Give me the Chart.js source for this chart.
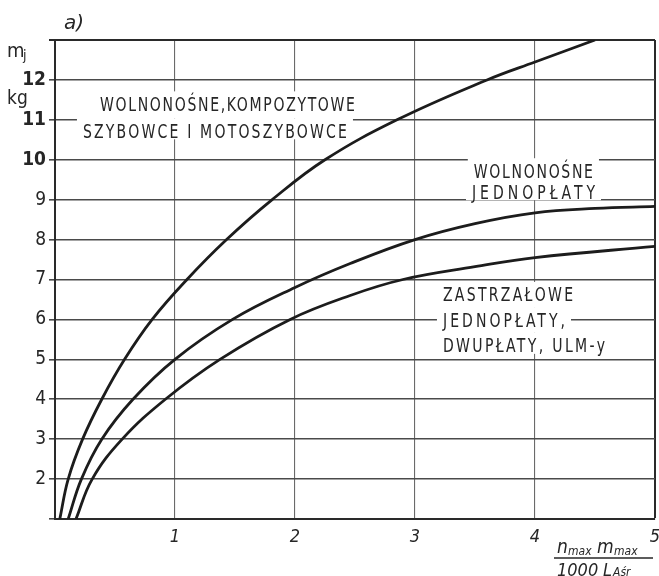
<!DOCTYPE html>
<html>
<head>
<meta charset="utf-8">
<style>
  html, body { margin: 0; padding: 0; background: #ffffff; }
  #wrap { width: 659px; height: 576px; }
</style>
<script src="https://cdn.jsdelivr.net/npm/chart.js@4/dist/chart.umd.min.js"></script>
</head>
<body>
<div id="wrap"><canvas id="chart" width="659" height="576"></canvas></div>
<script>
// Load factor term on x, mass m_j [kg] on y
const xTicks = [1, 2, 3, 4, 5];
const yTicks = [2, 3, 4, 5, 6, 7, 8, 9, 10, 11, 12];

// Free-carrying composite gliders and motor gliders
const compositeX = [0.04, 0.11, 0.23, 0.39, 0.58, 0.81, 1.1, 1.43, 1.81, 2.25, 2.85, 3.6, 4.0, 4.5];
const compositeY = [1, 2, 3, 4, 5, 6, 7, 8, 9, 10, 11, 12, 12.45, 13];

// Free-carrying monoplanes
const monoplaneX = [0.11, 0.22, 0.39, 0.65, 1.0, 1.48, 2.0, 2.46, 3.0, 3.5, 4.0, 4.5, 5.0];
const monoplaneY = [1, 2, 3, 4, 5, 6, 6.8, 7.4, 8.0, 8.4, 8.67, 8.78, 8.83];

// Strut-braced monoplanes, biplanes, ULM
const strutX = [0.175, 0.31, 0.56, 0.92, 1.375, 1.96, 2.46, 2.9, 3.5, 4.0, 5.0];
const strutY = [1, 2, 3, 4, 5, 6, 6.6, 7.0, 7.32, 7.55, 7.83];

// In-plot captions: text lines with their span on the x axis and centre on the y axis
const captions = [
  { lines: ['WOLNONOŚNE,KOMPOZYTOWE', 'SZYBOWCE I MOTOSZYBOWCE'],
    x0: [0.375, 0.233], x1: [2.5, 2.433], y: [11.4, 10.725] },
  { lines: ['WOLNONOŚNE', 'JEDNOPŁATY'],
    x0: [3.49, 3.475], x1: [4.483, 4.5], y: [9.725, 9.2] },
  { lines: ['ZASTRZAŁOWE', 'JEDNOPŁATY,', 'DWUPŁATY, ULM-y'],
    x0: [3.233, 3.233, 3.233], x1: [4.317, 4.25, 4.583], y: [6.625, 5.975, 5.35] }
];

const INK = '#262626';
const LETTER_FONT = "19px 'DejaVu Sans Condensed', 'DejaVu Sans', sans-serif";
const LETTER_SQUEEZE = 0.82;

function toPoints(xs, ys) {
  return xs.map((x, i) => ({ x: x, y: ys[i] }));
}

function curve(label, xs, ys) {
  return {
    label: label,
    data: toPoints(xs, ys),
    showLine: true,
    borderColor: '#1c1c1c',
    borderWidth: 2.8,
    pointRadius: 0,
    tension: 0.4,
    fill: false
  };
}

// Narrow lettering, spaced out to span a given pixel width
function spreadText(ctx, text, left, right, baseline) {
  ctx.save();
  ctx.translate(left, baseline);
  ctx.scale(LETTER_SQUEEZE, 1);
  ctx.letterSpacing = '0px';
  const target = (right - left) / LETTER_SQUEEZE;
  const w = ctx.measureText(text).width;
  const n = Math.max(1, text.length - 1);
  const gap = (target - w) / n;
  if (gap >= 0) {
    ctx.letterSpacing = gap.toFixed(2) + 'px';
  } else {
    ctx.scale(target / w, 1);
  }
  ctx.fillText(text, 0, 0);
  ctx.restore();
}

const whitePage = {
  id: 'whitePage',
  beforeDraw(chart) {
    const ctx = chart.ctx;
    ctx.save();
    ctx.fillStyle = '#ffffff';
    ctx.fillRect(0, 0, chart.width, chart.height);
    ctx.restore();
  }
};

// Captions sit on white patches that interrupt the grid
const captionPlugin = {
  id: 'captionPlugin',
  beforeDatasetsDraw(chart) {
    const ctx = chart.ctx;
    const xs = chart.scales.x, ys = chart.scales.y;
    ctx.save();
    ctx.font = LETTER_FONT;
    captions.forEach(c => {
      c.lines.forEach((t, i) => {
        const l = xs.getPixelForValue(c.x0[i]);
        const r = xs.getPixelForValue(c.x1[i]);
        const cy = ys.getPixelForValue(c.y[i]);
        const top = cy - 12.5;
        const bottom = (i < c.lines.length - 1) ? ys.getPixelForValue(c.y[i + 1]) - 12.5 : cy + 8.5;
        ctx.fillStyle = '#ffffff';
        ctx.fillRect(l - 6, top, (r - l) + 12, bottom - top);
      });
    });
    ctx.fillStyle = INK;
    ctx.textBaseline = 'alphabetic';
    ctx.textAlign = 'left';
    captions.forEach(c => {
      c.lines.forEach((t, i) => {
        const l = xs.getPixelForValue(c.x0[i]);
        const r = xs.getPixelForValue(c.x1[i]);
        const cy = ys.getPixelForValue(c.y[i]);
        spreadText(ctx, t, l, r, cy + 7);
      });
    });
    ctx.restore();
  }
};

// Axis names, unit and panel letter
const axisNotes = {
  id: 'axisNotes',
  afterDraw(chart) {
    const ctx = chart.ctx;
    const area = chart.chartArea;
    ctx.save();
    ctx.fillStyle = INK;
    ctx.strokeStyle = INK;
    ctx.textBaseline = 'alphabetic';
    ctx.textAlign = 'left';

    // panel letter
    ctx.font = "italic 20px 'DejaVu Sans', sans-serif";
    ctx.fillText('a)', 64, 29);

    // y axis symbol and unit
    ctx.font = "20px 'DejaVu Sans Condensed', 'DejaVu Sans', sans-serif";
    ctx.fillText('m', 7, 57);
    ctx.font = "14px 'DejaVu Sans Condensed', 'DejaVu Sans', sans-serif";
    ctx.fillText('j', 23, 60);
    ctx.font = "19px 'DejaVu Sans Condensed', 'DejaVu Sans', sans-serif";
    ctx.fillText('kg', 7, 104);

    // x axis term as a fraction
    const fx = 557;
    ctx.font = "italic 19px 'DejaVu Sans Condensed', 'DejaVu Sans', sans-serif";
    ctx.fillText('n', fx, 553);
    ctx.font = "italic 12px 'DejaVu Sans Condensed', 'DejaVu Sans', sans-serif";
    ctx.fillText('max', fx + 11, 555);
    ctx.font = "italic 19px 'DejaVu Sans Condensed', 'DejaVu Sans', sans-serif";
    ctx.fillText('m', fx + 40, 553);
    ctx.font = "italic 12px 'DejaVu Sans Condensed', 'DejaVu Sans', sans-serif";
    ctx.fillText('max', fx + 57, 555);
    ctx.lineWidth = 1.3;
    ctx.beginPath();
    ctx.moveTo(fx - 3, 558);
    ctx.lineTo(area.right - 2, 558);
    ctx.stroke();
    ctx.font = "italic 18px 'DejaVu Sans Condensed', 'DejaVu Sans', sans-serif";
    ctx.fillText('1000', fx, 576);
    ctx.fillText('L', fx + 46, 576);
    ctx.font = "italic 12px 'DejaVu Sans Condensed', 'DejaVu Sans', sans-serif";
    ctx.fillText('Aśr', fx + 56, 576);
    ctx.restore();
  }
};

new Chart(document.getElementById('chart'), {
  type: 'scatter',
  data: {
    datasets: [
      curve('Wolnonośne, kompozytowe szybowce i motoszybowce', compositeX, compositeY),
      curve('Wolnonośne jednopłaty', monoplaneX, monoplaneY),
      curve('Zastrzałowe jednopłaty, dwupłaty, ULM-y', strutX, strutY)
    ]
  },
  options: {
    responsive: false,
    animation: false,
    devicePixelRatio: 1,
    layout: { padding: { top: 40, right: 4, left: 0, bottom: 0 } },
    plugins: { legend: { display: false }, tooltip: { enabled: false } },
    scales: {
      x: {
        type: 'linear',
        min: 0,
        max: 5,
        afterFit(scale) {
          scale.height = 57;
          scale.paddingLeft = 0;
          scale.paddingRight = 0;
        },
        afterBuildTicks(scale) {
          scale.ticks = [0].concat(xTicks).map(v => ({ value: v }));
        },
        border: { display: true, color: '#2a2a2a', width: 2 },
        grid: {
          drawTicks: false,
          color: ctx => (ctx.tick && ctx.tick.value === 5) ? '#2a2a2a' : '#6a6a6a',
          lineWidth: ctx => (ctx.tick && ctx.tick.value === 5) ? 2 : 1.1
        },
        ticks: {
          padding: 8,
          color: INK,
          font: { family: "'DejaVu Sans Condensed', 'DejaVu Sans', sans-serif", size: 18, style: 'italic' },
          callback: v => (xTicks.includes(v) ? String(v) : '')
        }
      },
      y: {
        type: 'linear',
        min: 1,
        max: 13,
        afterFit(scale) { scale.width = 55; },
        afterBuildTicks(scale) {
          scale.ticks = [1].concat(yTicks, [13]).map(v => ({ value: v }));
        },
        border: { display: true, color: '#2a2a2a', width: 2 },
        grid: {
          drawTicks: true,
          tickLength: 6,
          color: ctx => (ctx.tick && ctx.tick.value === 13) ? '#2a2a2a' : '#4a4a4a',
          lineWidth: ctx => (ctx.tick && ctx.tick.value === 13) ? 2 : 1.6
        },
        ticks: {
          padding: 3,
          color: INK,
          font: ctx => ({
            family: "'DejaVu Sans Condensed', 'DejaVu Sans', sans-serif",
            size: 19,
            weight: (ctx.tick && ctx.tick.value >= 10) ? 'bold' : 'normal'
          }),
          callback: v => (yTicks.includes(v) ? String(v) : '')
        }
      }
    }
  },
  plugins: [whitePage, captionPlugin, axisNotes]
});
</script>
</body>
</html>
